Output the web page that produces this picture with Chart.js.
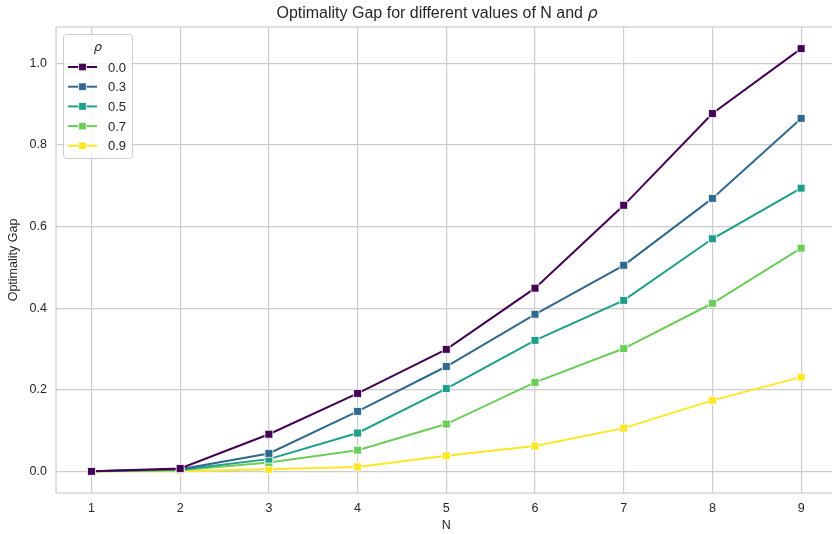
<!DOCTYPE html>
<html>
<head>
<meta charset="utf-8">
<script src="https://cdn.jsdelivr.net/npm/chart.js@4/dist/chart.umd.min.js"></script>
<style>
  html, body { margin: 0; padding: 0; background: #ffffff; overflow: hidden; }
  #wrap { width: 843px; height: 534px; position: relative; }
</style>
</head>
<body>
<div id="wrap"><canvas id="c" width="843" height="534"></canvas></div>
<script>
// Problem sizes on the x axis
const nValues = [1, 2, 3, 4, 5, 6, 7, 8, 9];

// Correlation levels (legend entries)
const rhoLabels = ['0.0', '0.3', '0.5', '0.7', '0.9'];

// Optimality gap for each rho, one value per N
const gapRho00 = [0.000, 0.007, 0.091, 0.191, 0.299, 0.449, 0.652, 0.877, 1.036];
const gapRho03 = [0.000, 0.005, 0.044, 0.147, 0.257, 0.385, 0.505, 0.669, 0.865];
const gapRho05 = [0.000, 0.004, 0.030, 0.094, 0.203, 0.321, 0.419, 0.570, 0.694];
const gapRho07 = [0.000, 0.003, 0.022, 0.052, 0.116, 0.218, 0.301, 0.412, 0.547];
const gapRho09 = [0.000, 0.000, 0.005, 0.011, 0.038, 0.062, 0.106, 0.174, 0.231];

// Tick labels
const yTicks = [0.0, 0.2, 0.4, 0.6, 0.8, 1.0];
const xTicks = nValues;

// viridis colours mapped over rho
const lineColors = ['#440154', '#31688e', '#1f9e89', '#6ccd5a', '#fde725'];

const seriesList = [gapRho00, gapRho03, gapRho05, gapRho07, gapRho09];

const TEXT = '#262626';
const GRID = '#cccccc';
const FONT = "'Liberation Sans', Arial, Helvetica, sans-serif";

const datasets = seriesList.map((vals, i) => ({
  label: rhoLabels[i],
  data: nValues.map((n, k) => ({ x: n, y: vals[k] })),
  borderColor: lineColors[i],
  backgroundColor: lineColors[i],
  borderWidth: 2,
  pointStyle: 'rect',
  pointRadius: 5.6,
  pointHoverRadius: 5.6,
  pointBorderColor: '#ffffff',
  pointBorderWidth: 0.8,
  pointBackgroundColor: lineColors[i],
  tension: 0
}));

// Frame around the plotting area, drawn beneath the lines
const framePlugin = {
  id: 'frame',
  beforeDatasetsDraw(chart) {
    const { ctx, chartArea: a } = chart;
    ctx.save();
    ctx.strokeStyle = GRID;
    ctx.lineWidth = 1.25;
    ctx.strokeRect(a.left, a.top, a.right - a.left, a.bottom - a.top);
    ctx.restore();
  }
};

// Title with an italic rho
const titlePlugin = {
  id: 'mathTitle',
  afterDraw(chart) {
    const { ctx } = chart;
    const part1 = 'Optimality Gap for different values of N and ';
    const part2 = 'ρ';
    ctx.save();
    ctx.fillStyle = TEXT;
    ctx.textBaseline = 'middle';
    const f1 = '16px ' + FONT;
    const f2 = 'italic 16px ' + "'DejaVu Sans', sans-serif";
    ctx.font = f1;
    const w1 = ctx.measureText(part1).width;
    ctx.font = f2;
    const w2 = ctx.measureText(part2).width;
    const cx = 437;
    const x = cx - (w1 + w2) / 2;
    ctx.textAlign = 'left';
    ctx.font = f1;
    ctx.fillText(part1, x, 13.5);
    ctx.font = f2;
    ctx.fillText(part2, x + w1, 13.5);
    ctx.restore();
  }
};

// Legend box in the upper-left corner of the axes
const legendBoxPlugin = {
  id: 'legendBox',
  afterDraw(chart) {
    const { ctx, chartArea: a } = chart;
    const bx = a.left + 7, by = a.top + 7, bw = 69, bh = 124;
    ctx.save();
    ctx.beginPath();
    ctx.roundRect(bx + 0.5, by + 0.5, bw, bh, 3);
    ctx.fillStyle = 'rgba(255,255,255,0.8)';
    ctx.fill();
    ctx.strokeStyle = GRID;
    ctx.lineWidth = 1;
    ctx.stroke();

    ctx.fillStyle = TEXT;
    ctx.textBaseline = 'middle';
    ctx.textAlign = 'center';
    ctx.font = "italic 13px 'DejaVu Sans', sans-serif";
    ctx.fillText('ρ', bx + 35, by + 14);

    chart.data.datasets.forEach((ds, i) => {
      const y = by + 33 + i * 19.7;
      const x0 = bx + 5, x1 = bx + 34;
      ctx.strokeStyle = ds.borderColor;
      ctx.lineWidth = 2;
      ctx.beginPath();
      ctx.moveTo(x0, y);
      ctx.lineTo(x1, y);
      ctx.stroke();
      const mx = (x0 + x1) / 2;
      ctx.fillStyle = ds.borderColor;
      ctx.fillRect(mx - 3.8, y - 3.8, 7.6, 7.6);
      ctx.strokeStyle = '#ffffff';
      ctx.lineWidth = 0.8;
      ctx.strokeRect(mx - 3.8, y - 3.8, 7.6, 7.6);
      ctx.fillStyle = TEXT;
      ctx.textAlign = 'left';
      ctx.font = '13px ' + FONT;
      ctx.fillText(ds.label, bx + 45, y + 1);
    });
    ctx.restore();
  }
};

new Chart(document.getElementById('c'), {
  type: 'line',
  data: { datasets },
  plugins: [framePlugin, titlePlugin, legendBoxPlugin],
  options: {
    responsive: false,
    animation: false,
    devicePixelRatio: 1,
    layout: { padding: { top: 27, left: 0, right: 0, bottom: 0 } },
    plugins: {
      legend: { display: false },
      title: { display: false },
      tooltip: { enabled: false }
    },
    scales: {
      x: {
        type: 'linear',
        min: 0.6,
        max: 9.4,
        afterBuildTicks(scale) { scale.ticks = xTicks.map(v => ({ value: v })); },
        afterFit(scale) { scale.height = 41; },
        grid: { color: GRID, lineWidth: 1.2, drawTicks: false },
        border: { display: false },
        ticks: {
          color: TEXT,
          font: { family: FONT, size: 12.5 },
          padding: 8,
          maxRotation: 0,
          callback: v => String(v)
        },
        title: {
          display: true,
          text: 'N',
          color: TEXT,
          font: { family: FONT, size: 12.5 },
          padding: { top: 0, bottom: 1 }
        }
      },
      y: {
        type: 'linear',
        min: -0.053,
        max: 1.089,
        afterBuildTicks(scale) { scale.ticks = yTicks.map(v => ({ value: v })); },
        afterFit(scale) { scale.width = 56; },
        grid: { color: GRID, lineWidth: 1.2, drawTicks: false },
        border: { display: false },
        ticks: {
          color: TEXT,
          font: { family: FONT, size: 12.5 },
          padding: 9,
          callback: v => Number(v).toFixed(1)
        },
        title: {
          display: true,
          text: 'Optimality Gap',
          color: TEXT,
          font: { family: FONT, size: 12.5 },
          padding: { top: 6, bottom: 0 }
        }
      }
    }
  }
});
</script>
</body>
</html>
